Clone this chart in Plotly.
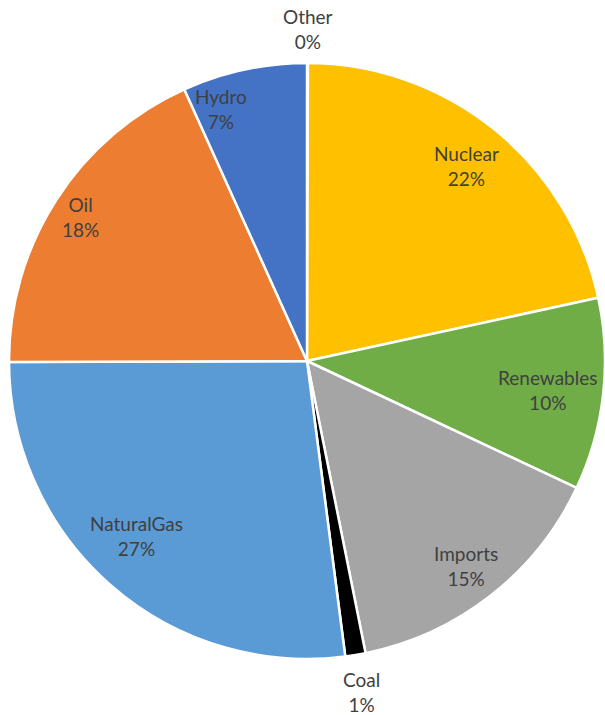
import math
import plotly.graph_objects as go

# Electricity supply mix (share of total), clockwise from 12 o'clock
labels = ["Other", "Nuclear", "Renewables", "Imports", "Coal", "NaturalGas", "Oil", "Hydro"]
values = [0.05, 21.55, 10.4, 14.85, 1.1, 27.0, 18.3, 6.75]
colors = ["#FFFFFF", "#FFC000", "#70AD47", "#A5A5A5", "#000000", "#5B9BD5", "#ED7D31", "#4472C4"]
outside = ["Other", "Coal"]

W, H = 605, 715
ML, MR, MT, MB = 9, 0, 62, 55
pw, ph = W - ML - MR, H - MT - MB
R = min(pw, ph) / 2

FONT_SIZE = 19
CHAR_W = 10.0      # approx. advance per character, px
LINE_H = 25.0      # approx. line height, px
EDGE_GAP = 2.5     # keep label boxes this far inside the rim
BASELINE_DROP = 2  # px, lowers every label slightly
# small hand adjustments (px, right/down) for a couple of labels
nudge = {"Hydro": (-30, 5), "NaturalGas": (-10, -10), "Imports": (2, 3)}

fig = go.Figure(go.Pie(
    labels=labels,
    values=values,
    sort=False,
    direction="clockwise",
    rotation=0,
    marker=dict(colors=colors, line=dict(color="#FFFFFF", width=2.5)),
    textinfo="none",
    hoverinfo="label+percent",
    showlegend=False,
))

total = sum(values)
cum = 0.0
annotations = []
for lab, v in zip(labels, values):
    mid = (cum + v / 2) / total * 2 * math.pi
    cum += v
    pct = round(v / total * 100)
    text_lines = [lab, f"{pct}%"]
    sx, sy = math.sin(mid), math.cos(mid)   # unit direction, y up
    if lab in outside:
        t = 1.12 * R
    else:
        # push the label outward along the mid-angle until its far corner
        # touches a circle slightly inside the rim
        hw = CHAR_W * max(len(s) for s in text_lines) / 2
        hh = LINE_H * len(text_lines) / 2
        cx = math.copysign(hw, sx)
        cy = math.copysign(hh, sy)
        b = sx * cx + sy * cy
        c = cx * cx + cy * cy - (R - EDGE_GAP) ** 2
        t = -b + math.sqrt(b * b - c)
    dx = t * sx
    dy = t * sy
    ndx, ndy = nudge.get(lab, (0, 0))
    dx += ndx
    dy -= ndy + BASELINE_DROP
    annotations.append(dict(
        x=0.5 + dx / pw, y=0.5 + dy / ph, xref="paper", yref="paper",
        text="<br>".join(text_lines), showarrow=False,
        xanchor="center", yanchor="middle",
        font=dict(family="Lato", size=FONT_SIZE, color="#404040"),
    ))

fig.update_layout(
    width=W, height=H,
    margin=dict(l=ML, r=MR, t=MT, b=MB),
    paper_bgcolor="#FFFFFF",
    plot_bgcolor="#FFFFFF",
    annotations=annotations,
)

fig.write_html("out.html")
